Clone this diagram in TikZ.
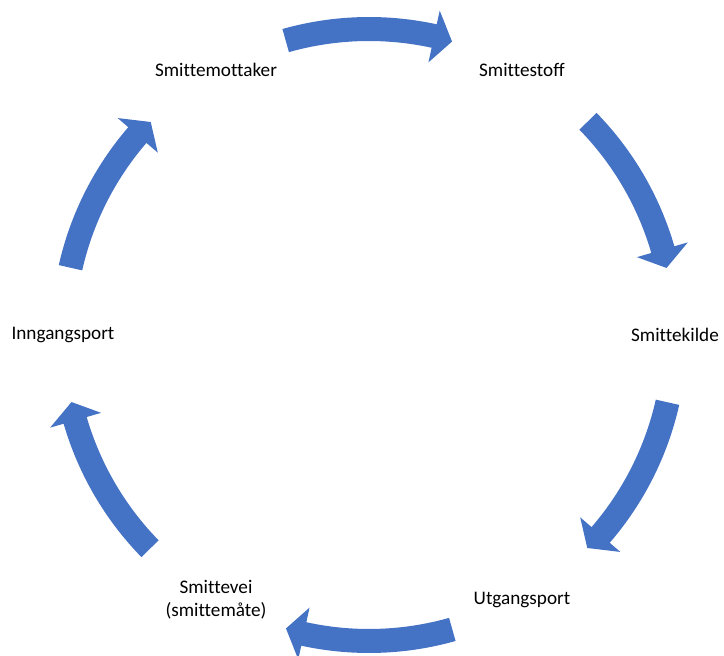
\documentclass[tikz,border=0pt]{standalone}
\usepackage{fontspec}
\setmainfont{Carlito}[Ligatures={NoCommon}]
\definecolor{cycblue}{RGB}{68,114,196}

\begin{document}
\begin{tikzpicture}[
  x=0.75pt,y=0.75pt,
  lbl/.style={align=center,font=\fontsize{14.4}{17.3}\selectfont,inner sep=0pt},
  cyc/.style={fill=cycblue}
]
  \useasboundingbox (-369,-321) rectangle (355,335);

  \node[lbl] (mottaker) at (120:306) {Smittemottaker};
  \node[lbl] (stoff) at (60:306) {Smittestoff};
  \node[lbl] (kilde) at (0:306) {Smittekilde};
  \node[lbl] (utgang) at (-60:306) {Utgangsport};
  \node[lbl] (vei) at (-120:306) {Smittevei\\(smittemåte)};
  \node[lbl] (inngang) at (180:306) {Inngangsport};

  % block arrows between the labels, clockwise
  \foreach \c in {90,28.5,-28.5,-90,-151.5,151.5}{
    \path[cyc] (\c+15.8:318) arc[start angle=\c+15.8,end angle=\c-12.3,radius=318]
      -- (\c-12.3:332) -- (\c-15.8:305) -- (\c-12.3:279) -- (\c-12.3:294)
      arc[start angle=\c-12.3,end angle=\c+15.8,radius=294] -- cycle;
  }
\end{tikzpicture}
\end{document}
